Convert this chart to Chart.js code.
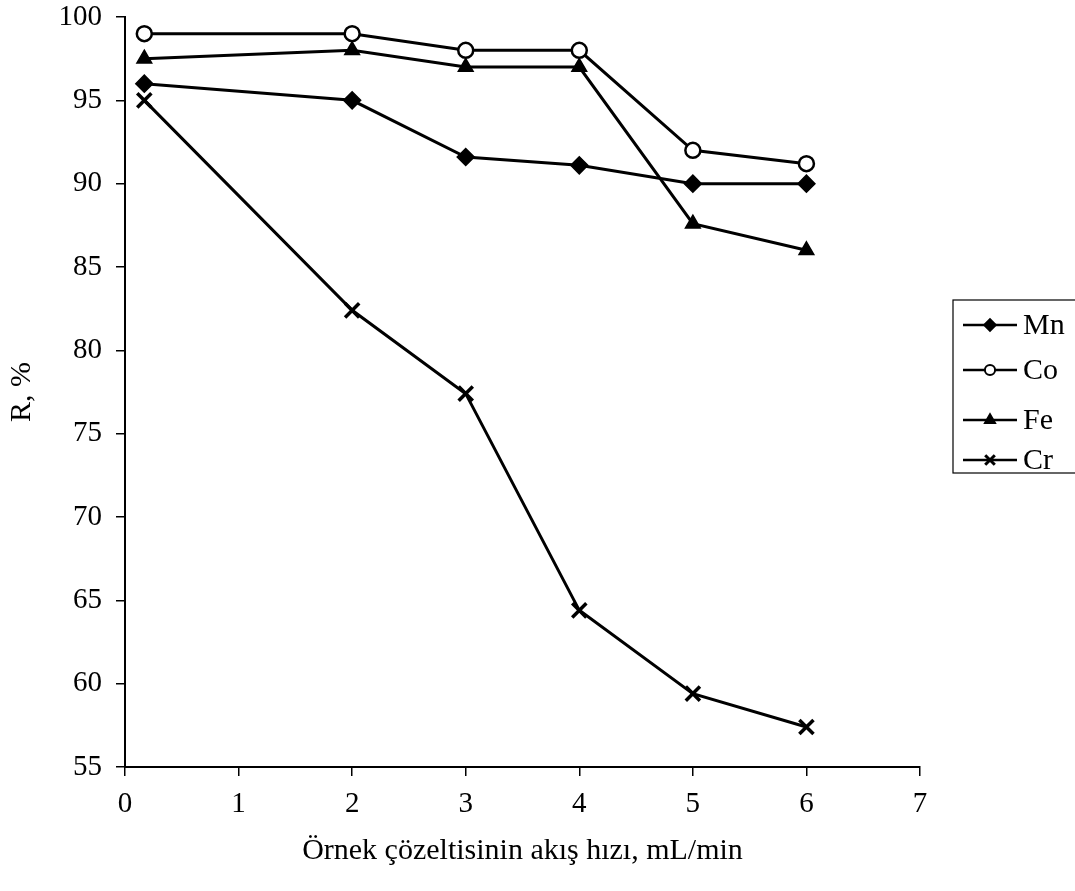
<!DOCTYPE html>
<html><head><meta charset="utf-8">
<script src="https://cdn.jsdelivr.net/npm/chart.js@4/dist/chart.umd.min.js"></script>
<style>html,body{margin:0;padding:0;background:#fff;overflow:hidden}#wrap{width:1075px;height:891px;position:relative}</style>
</head><body><div id="wrap"><canvas id="c" width="1075" height="891"></canvas></div>
<script>
const flowRates = [0.17, 2, 3, 4, 5, 6];
const mnValues = [96, 95, 91.6, 91.1, 90, 90];
const coValues = [99, 99, 98, 98, 92, 91.2];
const feValues = [97.5, 98, 97, 97, 87.6, 86];
const crValues = [95, 82.4, 77.4, 64.4, 59.4, 57.4];
const seriesNames = ['Mn', 'Co', 'Fe', 'Cr'];
const xTickValues = [0, 1, 2, 3, 4, 5, 6, 7];
const yTickValues = [55, 60, 65, 70, 75, 80, 85, 90, 95, 100];
const xTitle = 'Örnek çözeltisinin akış hızı, mL/min';
const yTitle = 'R, %';

const FONT = "'Liberation Serif', 'Times New Roman', serif";
const toPoints = vals => flowRates.map((x, i) => ({x: x, y: vals[i]}));

const styles = [
  {pointStyle: 'rectRot', pointRadius: 8.5, pointBackgroundColor: '#000', pointBorderWidth: 1.5},
  {pointStyle: 'circle', pointRadius: 7.5, pointBackgroundColor: '#fff', pointBorderWidth: 2.5},
  {pointStyle: 'triangle', pointRadius: 8.5, pointBackgroundColor: '#000', pointBorderWidth: 1.5},
  {pointStyle: 'crossRot', pointRadius: 10, pointBackgroundColor: '#000', pointBorderWidth: 3.5}
];
const seriesValues = [mnValues, coValues, feValues, crValues];

const datasets = seriesNames.map((name, i) => Object.assign({
  label: name,
  data: toPoints(seriesValues[i]),
  borderColor: '#000',
  borderWidth: 3,
  pointBorderColor: '#000',
  fill: false,
  tension: 0
}, styles[i]));

const boxLegend = {
  id: 'boxLegend',
  afterDraw(chart) {
    const ctx = chart.ctx;
    const ca = chart.chartArea;
    const x0 = ca.right + 33;
    const y0 = ca.top + 283;
    ctx.save();
    ctx.strokeStyle = '#000';
    ctx.lineWidth = 1.2;
    ctx.strokeRect(x0, y0, 140, 173);
    const rows = [25, 70, 120, 160];
    chart.data.datasets.forEach((ds, i) => {
      const y = y0 + rows[i];
      ctx.strokeStyle = '#000';
      ctx.lineWidth = 2.5;
      ctx.beginPath();
      ctx.moveTo(x0 + 10, y);
      ctx.lineTo(x0 + 64, y);
      ctx.stroke();
      ctx.fillStyle = ds.pointBackgroundColor;
      ctx.strokeStyle = '#000';
      ctx.lineWidth = ds.pointStyle === 'crossRot' ? 3 : 2;
      Chart.helpers.drawPoint(ctx, {pointStyle: ds.pointStyle, radius: ds.pointRadius * 0.68, borderWidth: ctx.lineWidth, rotation: 0}, x0 + 37, y);
      ctx.fillStyle = '#000';
      ctx.font = "30px " + FONT;
      ctx.textAlign = 'left';
      ctx.textBaseline = 'middle';
      ctx.fillText(ds.label, x0 + 70, y + 1);
    });
    ctx.restore();
  }
};

new Chart(document.getElementById('c'), {
  type: 'line',
  data: {datasets: datasets},
  plugins: [boxLegend],
  options: {
    responsive: false,
    animation: false,
    devicePixelRatio: 1,
    layout: {padding: {top: 0, right: 155, left: 0, bottom: 0}},
    plugins: {legend: {display: false}, tooltip: {enabled: false}},
    scales: {
      x: {
        type: 'linear',
        min: 0, max: 7,
        afterBuildTicks: s => { s.ticks = xTickValues.map(v => ({value: v})); },
        afterFit: s => { s.height = 124; },
        ticks: {color: '#000', font: {family: FONT, size: 29}, padding: 11},
        grid: {drawOnChartArea: false, drawTicks: true, tickLength: 9, color: '#000', lineWidth: 1.5},
        border: {display: true, color: '#000', width: 2},
        title: {display: true, text: xTitle, color: '#000', font: {family: FONT, size: 30}, padding: {top: 0, bottom: 22}}
      },
      y: {
        type: 'linear',
        min: 55, max: 100,
        afterBuildTicks: s => { s.ticks = yTickValues.map(v => ({value: v})); },
        afterFit: s => { s.width = 125; s.paddingTop = 17; s.paddingBottom = 0; },
        ticks: {color: '#000', font: {family: FONT, size: 29}, padding: 14},
        grid: {drawOnChartArea: false, drawTicks: true, tickLength: 9, color: '#000', lineWidth: 1.5},
        border: {display: true, color: '#000', width: 2},
        title: {display: true, text: yTitle, color: '#000', font: {family: FONT, size: 30}, padding: {top: 4, bottom: 0}}
      }
    }
  }
});
</script>
</body></html>
